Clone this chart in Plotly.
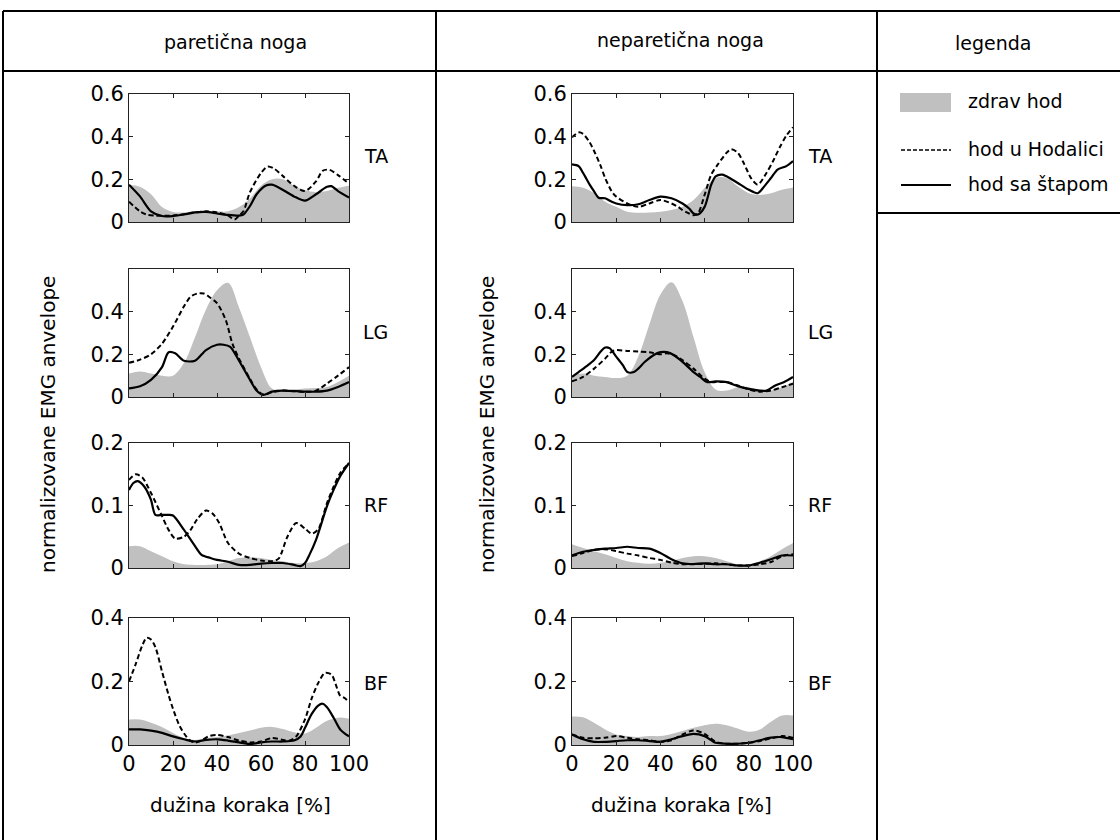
import plotly.graph_objects as go

W, H = 1120, 840
FONT = "DejaVu Sans"
GRAY = "#c0c0c0"

# x positions (% of stride) used by most series
X5 = [0, 5, 10, 15, 20, 25, 30, 35, 40, 45, 50, 55, 60, 65, 70, 75, 80, 85, 90, 95, 100]

# ---------- paretična noga ----------
par_ta_zdrav = [0.175, 0.165, 0.13, 0.07, 0.047, 0.045, 0.05, 0.05, 0.05, 0.05, 0.07,
                0.11, 0.17, 0.2, 0.2, 0.17, 0.15, 0.14, 0.145, 0.16, 0.17]
par_ta_hod_x = [0, 5, 8, 12, 20, 30, 35, 40, 45, 48, 50, 52, 55, 60, 63, 66, 70, 75, 80, 85, 88, 91, 95, 100]
par_ta_hod = [0.095, 0.05, 0.035, 0.03, 0.03, 0.045, 0.05, 0.045, 0.03, 0.012, 0.03, 0.05,
              0.14, 0.23, 0.26, 0.25, 0.215, 0.17, 0.145, 0.19, 0.24, 0.245, 0.22, 0.18]
par_ta_stap_x = [0, 5, 10, 15, 20, 25, 30, 35, 40, 45, 50, 52, 55, 58, 62, 65, 70, 75, 80, 85, 90, 92, 95, 100]
par_ta_stap = [0.175, 0.12, 0.05, 0.028, 0.028, 0.035, 0.045, 0.047, 0.04, 0.033, 0.03, 0.035,
               0.075, 0.13, 0.17, 0.175, 0.15, 0.12, 0.1, 0.13, 0.165, 0.168, 0.145, 0.115]

par_lg_zdrav = [0.11, 0.12, 0.11, 0.1, 0.1, 0.16, 0.28, 0.41, 0.5, 0.535, 0.42,
                0.28, 0.14, 0.04, 0.03, 0.035, 0.04, 0.042, 0.047, 0.07, 0.1]
par_lg_hod_x = [0, 5, 10, 15, 20, 25, 28, 31, 34, 37, 40, 44, 47, 50, 55, 58, 61, 65, 70, 80, 85, 90, 95, 100]
par_lg_hod = [0.16, 0.175, 0.2, 0.25, 0.33, 0.425, 0.47, 0.485, 0.485, 0.465, 0.44, 0.36,
              0.25, 0.18, 0.085, 0.035, 0.012, 0.022, 0.03, 0.024, 0.03, 0.063, 0.1, 0.14]
par_lg_stap_x = [0, 5, 10, 15, 18, 21, 25, 30, 35, 40, 43, 46, 50, 55, 58, 61, 65, 70, 80, 85, 90, 95, 100]
par_lg_stap = [0.04, 0.05, 0.08, 0.14, 0.21, 0.205, 0.17, 0.17, 0.22, 0.245, 0.245, 0.235,
               0.17, 0.08, 0.03, 0.01, 0.025, 0.03, 0.025, 0.025, 0.03, 0.047, 0.07]

par_rf_zdrav = [0.035, 0.035, 0.027, 0.019, 0.011, 0.006, 0.005, 0.005, 0.006, 0.011, 0.016,
                0.017, 0.016, 0.013, 0.011, 0.008, 0.008, 0.011, 0.019, 0.032, 0.041]
par_rf_hod_x = [0, 3, 6, 10, 15, 18, 21, 25, 28, 31, 35, 38, 41, 45, 50, 55, 60, 65, 68, 72,
                76, 80, 83, 86, 90, 93, 96, 100]
par_rf_hod = [0.141, 0.15, 0.145, 0.12, 0.083, 0.061, 0.047, 0.05, 0.061, 0.078, 0.092, 0.087,
              0.072, 0.04, 0.023, 0.016, 0.012, 0.011, 0.015, 0.05, 0.072, 0.063, 0.055, 0.062,
              0.104, 0.13, 0.152, 0.168]
par_rf_stap_x = [0, 2, 4, 7, 10, 12, 15, 18, 20, 25, 30, 33, 37, 40, 45, 50, 55, 60, 65, 70,
                 75, 78, 80, 82, 85, 90, 93, 96, 100]
par_rf_stap = [0.125, 0.136, 0.139, 0.13, 0.109, 0.085, 0.085, 0.085, 0.084, 0.061, 0.035,
               0.021, 0.016, 0.013, 0.01, 0.005, 0.005, 0.007, 0.008, 0.008, 0.005, 0.003,
               0.008, 0.021, 0.045, 0.099, 0.125, 0.147, 0.168]

par_bf_zdrav = [0.08, 0.08, 0.07, 0.057, 0.038, 0.022, 0.016, 0.022, 0.025, 0.03, 0.038,
                0.046, 0.054, 0.057, 0.05, 0.04, 0.036, 0.054, 0.076, 0.086, 0.083]
par_bf_hod_x = [0, 3, 6, 8, 10, 12, 15, 18, 20, 23, 26, 28, 30, 33, 36, 40, 45, 50, 55, 60,
                65, 70, 73, 76, 80, 83, 86, 89, 92, 94, 96, 98, 100]
par_bf_hod = [0.2, 0.254, 0.313, 0.338, 0.332, 0.308, 0.232, 0.157, 0.114, 0.06, 0.027, 0.013,
              0.008, 0.014, 0.027, 0.032, 0.025, 0.014, 0.008, 0.011, 0.022, 0.016, 0.014,
              0.027, 0.081, 0.146, 0.195, 0.227, 0.222, 0.19, 0.155, 0.148, 0.135]
par_bf_stap_x = [0, 5, 10, 15, 20, 25, 30, 35, 40, 45, 50, 55, 60, 65, 70, 75, 78, 80, 83,
                 86, 88, 90, 93, 96, 100]
par_bf_stap = [0.049, 0.049, 0.045, 0.038, 0.027, 0.018, 0.011, 0.016, 0.018, 0.014, 0.008,
               0.003, 0.008, 0.011, 0.011, 0.014, 0.027, 0.054, 0.097, 0.124, 0.13, 0.119,
               0.086, 0.049, 0.027]

# ---------- neparetična noga ----------
nep_ta_zdrav = [0.167, 0.16, 0.135, 0.095, 0.071, 0.048, 0.043, 0.045, 0.048, 0.056, 0.071,
                0.103, 0.159, 0.206, 0.206, 0.167, 0.135, 0.127, 0.135, 0.151, 0.162]
nep_ta_hod_x = [0, 3, 5, 8, 10, 13, 15, 18, 20, 25, 30, 35, 40, 45, 48, 50, 53, 55, 57, 60,
                63, 66, 70, 72, 75, 78, 81, 84, 88, 91, 94, 97, 100]
nep_ta_hod = [0.397, 0.42, 0.413, 0.373, 0.333, 0.262, 0.206, 0.143, 0.119, 0.087, 0.071,
              0.087, 0.103, 0.087, 0.071, 0.056, 0.04, 0.032, 0.04, 0.127, 0.222, 0.27, 0.325,
              0.341, 0.325, 0.27, 0.206, 0.175, 0.23, 0.286, 0.35, 0.405, 0.444]
nep_ta_stap_x = [0, 3, 5, 8, 10, 12, 15, 18, 20, 25, 30, 35, 40, 45, 50, 53, 55, 57, 60, 63,
                 65, 68, 72, 75, 80, 84, 87, 90, 93, 97, 100]
nep_ta_stap = [0.27, 0.262, 0.23, 0.175, 0.143, 0.114, 0.111, 0.095, 0.087, 0.079, 0.083,
               0.103, 0.119, 0.111, 0.087, 0.063, 0.04, 0.035, 0.071, 0.175, 0.214, 0.222,
               0.202, 0.183, 0.151, 0.135, 0.167, 0.206, 0.246, 0.262, 0.286]

nep_lg_zdrav = [0.1, 0.11, 0.1, 0.094, 0.089, 0.1, 0.19, 0.34, 0.48, 0.538, 0.45,
                0.28, 0.117, 0.035, 0.03, 0.046, 0.046, 0.03, 0.03, 0.046, 0.07]
nep_lg_hod_x = [0, 5, 10, 15, 18, 20, 25, 30, 35, 40, 43, 46, 50, 55, 60, 63, 65, 70, 75, 80,
                85, 90, 95, 100]
nep_lg_hod = [0.073, 0.094, 0.133, 0.18, 0.213, 0.22, 0.216, 0.213, 0.21, 0.2, 0.205, 0.197,
              0.173, 0.133, 0.086, 0.07, 0.07, 0.07, 0.054, 0.035, 0.025, 0.03, 0.046, 0.062]
nep_lg_stap_x = [0, 3, 6, 10, 13, 15, 17, 20, 23, 25, 28, 30, 33, 37, 40, 43, 46, 50, 55, 58,
                 61, 65, 70, 75, 80, 85, 88, 92, 96, 100]
nep_lg_stap = [0.094, 0.117, 0.14, 0.173, 0.213, 0.232, 0.229, 0.189, 0.149, 0.117, 0.117,
               0.133, 0.165, 0.197, 0.21, 0.21, 0.197, 0.165, 0.117, 0.094, 0.07, 0.073, 0.07,
               0.051, 0.038, 0.03, 0.03, 0.054, 0.07, 0.094]

nep_rf_zdrav = [0.038, 0.032, 0.027, 0.022, 0.016, 0.011, 0.0085, 0.007, 0.0085, 0.011, 0.016,
                0.019, 0.019, 0.016, 0.011, 0.006, 0.006, 0.011, 0.019, 0.03, 0.04]
nep_rf_hod = [0.019, 0.024, 0.029, 0.03, 0.027, 0.023, 0.02, 0.016, 0.013, 0.0085, 0.006,
              0.006, 0.007, 0.0075, 0.006, 0.004, 0.004, 0.006, 0.0095, 0.019, 0.022]
nep_rf_stap = [0.02, 0.026, 0.029, 0.031, 0.032, 0.034, 0.032, 0.031, 0.024, 0.014, 0.0075,
               0.0064, 0.0075, 0.006, 0.006, 0.004, 0.004, 0.0085, 0.014, 0.02, 0.02]

nep_bf_zdrav = [0.09, 0.0875, 0.07, 0.049, 0.033, 0.028, 0.025, 0.028, 0.028, 0.035, 0.044,
                0.054, 0.0625, 0.067, 0.0625, 0.052, 0.042, 0.049, 0.073, 0.093, 0.093]
nep_bf_hod = [0.033, 0.023, 0.021, 0.023, 0.028, 0.023, 0.018, 0.015, 0.01, 0.015, 0.033,
              0.046, 0.035, 0.01, 0.004, 0.004, 0.007, 0.0125, 0.021, 0.028, 0.023]
nep_bf_stap = [0.033, 0.018, 0.01, 0.01, 0.0125, 0.015, 0.015, 0.0125, 0.01, 0.018, 0.028,
               0.035, 0.028, 0.007, 0.004, 0.004, 0.007, 0.015, 0.023, 0.025, 0.018]

muscles = ["TA", "LG", "RF", "BF"]
y_ranges = [[0, 0.6], [0, 0.6], [0, 0.2], [0, 0.4]]
y_ticks = [[0, 0.2, 0.4, 0.6], [0, 0.2, 0.4], [0, 0.1, 0.2], [0, 0.2, 0.4]]
x_ticks = [0, 20, 40, 60, 80, 100]

# panel layout in pixels
col_x = [(129, 349), (572, 793)]
row_y = [(94, 222), (269, 397), (443, 568), (618, 745)]
label_x = [376, 820]
label_y = [156, 332, 505, 683]

panels = [
    # (col, row, zdrav_x, zdrav, hod_x, hod, stap_x, stap)
    (0, 0, X5, par_ta_zdrav, par_ta_hod_x, par_ta_hod, par_ta_stap_x, par_ta_stap),
    (0, 1, X5, par_lg_zdrav, par_lg_hod_x, par_lg_hod, par_lg_stap_x, par_lg_stap),
    (0, 2, X5, par_rf_zdrav, par_rf_hod_x, par_rf_hod, par_rf_stap_x, par_rf_stap),
    (0, 3, X5, par_bf_zdrav, par_bf_hod_x, par_bf_hod, par_bf_stap_x, par_bf_stap),
    (1, 0, X5, nep_ta_zdrav, nep_ta_hod_x, nep_ta_hod, nep_ta_stap_x, nep_ta_stap),
    (1, 1, X5, nep_lg_zdrav, nep_lg_hod_x, nep_lg_hod, nep_lg_stap_x, nep_lg_stap),
    (1, 2, X5, nep_rf_zdrav, X5, nep_rf_hod, X5, nep_rf_stap),
    (1, 3, X5, nep_bf_zdrav, X5, nep_bf_hod, X5, nep_bf_stap),
]


def px(x):
    return x / W


def py(y):
    return 1 - y / H


fig = go.Figure()
layout = {}
annotations = []

for i, (col, row, zx, zy, hx, hy, sx, sy) in enumerate(panels):
    n = i + 1
    xa = "x" if n == 1 else f"x{n}"
    ya = "y" if n == 1 else f"y{n}"
    fig.add_trace(go.Scatter(x=zx, y=zy, mode="lines", fill="tozeroy", fillcolor=GRAY,
                             line=dict(width=0, shape="spline", color=GRAY),
                             xaxis=xa, yaxis=ya, showlegend=False, hoverinfo="skip"))
    fig.add_trace(go.Scatter(x=hx, y=hy, mode="lines",
                             line=dict(width=2, color="black", dash="5px,3px",
                                       shape="spline", smoothing=0.8),
                             xaxis=xa, yaxis=ya, showlegend=False))
    fig.add_trace(go.Scatter(x=sx, y=sy, mode="lines",
                             line=dict(width=2.2, color="black",
                                       shape="spline", smoothing=0.8),
                             xaxis=xa, yaxis=ya, showlegend=False))

    x0, x1 = col_x[col]
    y0, y1 = row_y[row]
    axis_common = dict(showline=True, linecolor="#222", linewidth=1, mirror="ticks",
                       ticks="inside", ticklen=4, tickcolor="#222", showgrid=False,
                       zeroline=False, automargin=False,
                       tickfont=dict(family=FONT, size=21, color="black"))
    layout["xaxis" if n == 1 else f"xaxis{n}"] = dict(
        domain=[px(x0), px(x1)], range=[0, 100], tickvals=x_ticks,
        showticklabels=(row == 3), anchor=ya, **axis_common)
    layout["yaxis" if n == 1 else f"yaxis{n}"] = dict(
        domain=[py(y1), py(y0)], range=y_ranges[row], tickvals=y_ticks[row],
        anchor=xa, **axis_common)

    annotations.append(dict(x=px(label_x[col]), y=py(label_y[row]), xref="paper", yref="paper",
                            text=muscles[row], showarrow=False, xanchor="center",
                            yanchor="middle", font=dict(family=FONT, size=19, color="black")))

# axis titles
for cx in [48, 487]:
    annotations.append(dict(x=px(cx), y=py(425), xref="paper", yref="paper",
                            text="normalizovane EMG anvelope", textangle=-90, showarrow=False,
                            xanchor="center", yanchor="middle",
                            font=dict(family=FONT, size=20, color="black")))
for cx in [240, 682]:
    annotations.append(dict(x=px(cx), y=py(805), xref="paper", yref="paper",
                            text="dužina koraka [%]", showarrow=False,
                            xanchor="center", yanchor="middle",
                            font=dict(family=FONT, size=20, color="black")))

# header texts
for txt, cx, cy in [("paretična noga", 235, 42), ("neparetična noga", 680, 40), ("legenda", 993, 43)]:
    annotations.append(dict(x=px(cx), y=py(cy), xref="paper", yref="paper", text=txt,
                            showarrow=False, xanchor="center", yanchor="middle",
                            font=dict(family=FONT, size=19, color="black")))

# legend texts
for txt, cy in [("zdrav hod", 101), ("hod u Hodalici", 149), ("hod sa štapom", 184)]:
    annotations.append(dict(x=px(966), y=py(cy), xref="paper", yref="paper", text=txt,
                            showarrow=False, xanchor="left", yanchor="middle",
                            font=dict(family=FONT, size=19, color="black")))

# table frame
shapes = []
line_style = dict(color="black", width=2)
for (xa0, ya0, xa1, ya1) in [(3, 11, W, 11), (3, 71, W, 71), (3, 11, 3, H),
                             (436, 11, 436, H), (877, 11, 877, H), (877, 213, W, 213)]:
    shapes.append(dict(type="line", xref="paper", yref="paper",
                       x0=px(xa0), y0=py(ya0), x1=px(xa1), y1=py(ya1), line=line_style))

# legend symbols
shapes.append(dict(type="rect", xref="paper", yref="paper", x0=px(900), x1=px(951),
                   y0=py(112), y1=py(93), fillcolor=GRAY, line=dict(width=0)))
shapes.append(dict(type="line", xref="paper", yref="paper", x0=px(901), x1=px(951),
                   y0=py(150), y1=py(150), line=dict(color="black", width=1.5, dash="4px,2px")))
shapes.append(dict(type="line", xref="paper", yref="paper", x0=px(901), x1=px(951),
                   y0=py(185), y1=py(185), line=dict(color="black", width=2)))

fig.update_layout(
    width=W, height=H,
    margin=dict(l=0, r=0, t=0, b=0, autoexpand=False),
    paper_bgcolor="white", plot_bgcolor="white",
    showlegend=False,
    annotations=annotations,
    shapes=shapes,
    **layout,
)

# drop the default page margin so the figure sits at the window's top-left corner
fig.write_html("out.html", config={"displayModeBar": False},
               post_script="document.body.style.margin='0';")
